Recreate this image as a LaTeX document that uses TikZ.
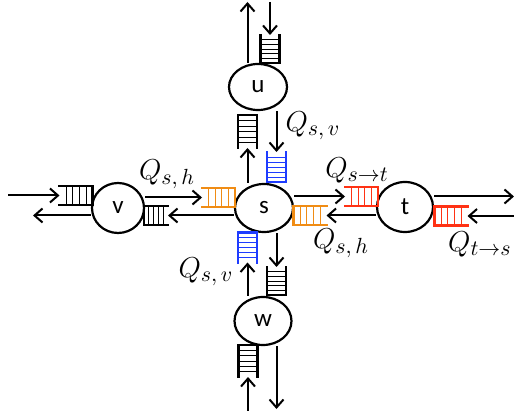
\documentclass[tikz,border=0pt]{standalone}
\usepackage{fontspec}
\newfontfamily\nodefont{Carlito}
\usetikzlibrary{shapes.geometric, arrows.meta, calc}

\definecolor{qorange}{RGB}{240,140,20}
\definecolor{qblue}{RGB}{30,60,255}
\definecolor{qred}{RGB}{255,50,20}

\newcommand{\qlab}[1]{$Q_{\mbox{\fontsize{11}{13}\selectfont$#1$}}$}

\begin{document}
\begin{tikzpicture}[x=0.5pt, y=-0.5pt,
        station/.style={ellipse, draw, line width=1.1pt, inner sep=0pt,
            minimum width=29pt, minimum height=24pt,
            font=\nodefont\fontsize{12.5}{14}\selectfont},
        link/.style={-{Straight Barb[length=4pt, width=7pt]}, line width=1pt},
        qlabel/.style={font=\fontsize{14}{16}\selectfont, inner sep=0pt},
        qedge/.style={line width=1.2pt, line cap=rect},
        slot/.style={line width=0.4pt},
        hq/.style={inner sep=0pt, outer sep=0pt, minimum width=16.5pt, minimum height=9.5pt},
        vq/.style={inner sep=0pt, outer sep=0pt, minimum width=9.5pt, minimum height=15pt},
        vslots/.style={path picture={
            \foreach \k in {1,...,4}
                \draw[slot, #1] ($(path picture bounding box.north west)!\k/5!(path picture bounding box.north east)$)
                    -- ($(path picture bounding box.south west)!\k/5!(path picture bounding box.south east)$);}},
        hslots/.style={path picture={
            \foreach \k in {1,...,5}
                \draw[slot, #1] ($(path picture bounding box.north west)!\k/6!(path picture bounding box.south west)$)
                    -- ($(path picture bounding box.north east)!\k/6!(path picture bounding box.south east)$);}},
        % queues, named by their open side
        qW/.style={hq, vslots=#1, append after command={\pgfextra{\let\qn\tikzlastnode}
            (\qn.north west) edge[qedge, #1] (\qn.north east)
            (\qn.north east) edge[qedge, #1] (\qn.south east)
            (\qn.south east) edge[qedge, #1] (\qn.south west)}},
        qW/.default=black,
        qE/.style={hq, vslots=#1, append after command={\pgfextra{\let\qn\tikzlastnode}
            (\qn.north east) edge[qedge, #1] (\qn.north west)
            (\qn.north west) edge[qedge, #1] (\qn.south west)
            (\qn.south west) edge[qedge, #1] (\qn.south east)}},
        qE/.default=black,
        qN/.style={vq, hslots=#1, append after command={\pgfextra{\let\qn\tikzlastnode}
            (\qn.north west) edge[qedge, #1] (\qn.south west)
            (\qn.south west) edge[qedge, #1] (\qn.south east)
            (\qn.south east) edge[qedge, #1] (\qn.north east)}},
        qN/.default=black,
        qS/.style={vq, hslots=#1, append after command={\pgfextra{\let\qn\tikzlastnode}
            (\qn.south west) edge[qedge, #1] (\qn.north west)
            (\qn.north west) edge[qedge, #1] (\qn.north east)
            (\qn.north east) edge[qedge, #1] (\qn.south east)}},
        qS/.default=black
    ]
        \useasboundingbox (0,0) rectangle (514,411);

        % Stations
        \node[station] (s) at (264,208) {s};
        \node[station, minimum height=23pt] (u) at (258,87) {u};
        \node[station, minimum width=26pt, minimum height=25pt] (v) at (118,208) {v};
        \node[station, minimum width=28pt, minimum height=25pt] (t) at (405,207) {t};
        \node[station, minimum width=28.5pt] (w) at (263,321) {w};

        % Queues at s
        \node[qW=qorange] (qsW) at (218.5,197.5) {};
        \node[qE=qorange] (qsE) at (310,215.5) {};
        \node[qN=qblue] (qsN) at (276.5,167) {};
        \node[qS=qblue] (qsS) at (247.5,247.5) {};

        % Queues at the neighbours
        \node[qS, minimum height=16.5pt] (quS) at (247.5,131.5) {};
        \node[qN, minimum height=14pt] (quN) at (270,49) {};
        \node[qW] (qvW) at (76,195.5) {};
        \node[qE, minimum width=12pt] (qvE) at (156,215.5) {};
        \node[qW=qred] (qtW) at (361.5,196.5) {};
        \node[qE=qred] (qtE) at (451,216) {};
        \node[qN, minimum height=14pt] (qwN) at (276.5,281) {};
        \node[qS, minimum height=16pt] (qwS) at (248,361) {};

        % Free ends
        \coordinate (inL) at (8,195.5);
        \coordinate (outL) at (33,215.5);
        \coordinate (outR) at (514,196.5);
        \coordinate (inR) at (514,216);
        \coordinate (outT) at (247.5,2);
        \coordinate (inT) at (270,2);
        \coordinate (inB) at (248,411);
        \coordinate (outB) at (276.5,409);

        % Horizontal links
        \draw[link] (inL) -- (qvW.west);
        \draw[link] (v.east |- qsW) -- (qsW.west);
        \draw[link] (s.east |- qtW) -- (qtW.west);
        \draw[link] (t.east |- qtW) -- (outR);
        \draw[link] (inR) -- (qtE.east);
        \draw[link] (t.west |- qsE) -- (qsE.east);
        \draw[link] (s.west |- qvE) -- (qvE.east);
        \draw[link] (v.west |- qvE) -- (outL);

        % Vertical links
        \draw[link] (s.north -| quS) -- (quS.south);
        \draw[link] (u.north -| quS) -- (outT);
        \draw[link] (inT) -- (quN.north);
        \draw[link] (u.south -| qsN) -- (qsN.north);
        \draw[link] (s.south -| qwN) -- (qwN.north);
        \draw[link] (w.north -| qsS) -- (qsS.south);
        \draw[link] (inB) -- (qwS.south);
        \draw[link] (w.south -| qwN) -- (outB);

        % Queue labels
        \node[qlabel] (lsvN) at (313,126) {\qlab{s,v}};
        \node[qlabel] (lsvS) at (206,272) {\qlab{s,v}};
        \node[qlabel] (lshW) at (167,174) {\qlab{s,h}};
        \node[qlabel] (lshE) at (341,243) {\qlab{s,h}};
        \node[qlabel] (lst) at (357,170) {\qlab{s{\to}t}};
        \node[qlabel, anchor=east] (lts) at (512,244) {\qlab{t{\to}s}};
    \end{tikzpicture}
\end{document}
